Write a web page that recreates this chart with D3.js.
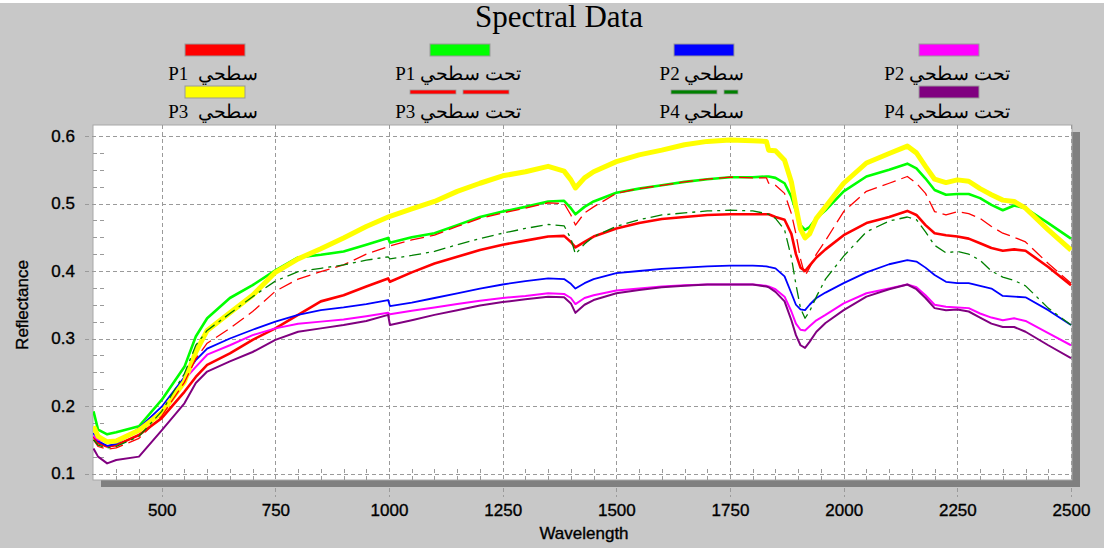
<!DOCTYPE html>
<html>
<head>
<meta charset="utf-8">
<script src="https://cdn.jsdelivr.net/npm/d3@7"></script>
<style>
  body { margin: 0; background: #c8c8c8; }
  svg { display: block; }
  .serif { font-family: "Liberation Serif", "Times New Roman", serif; }
  .sans { font-family: "Liberation Sans", Arial, sans-serif; stroke: #000; stroke-width: 0.35px; }
</style>
</head>
<body>
<svg></svg>
<script>
// Wavelength samples (nm) shared by all spectra
const wavelengths = [350, 360, 380, 400, 450, 500, 550, 575, 600, 650, 700, 750, 800, 850, 900, 950, 998, 1002,
  1050, 1100, 1150, 1200, 1250, 1300, 1350, 1385, 1400, 1410, 1430, 1450, 1500, 1550, 1600, 1650, 1700, 1750,
  1800, 1830, 1835, 1850, 1870, 1885, 1895, 1905, 1915, 1925, 1940, 1960, 2000, 2050, 2100, 2140, 2160, 2180,
  2200, 2225, 2250, 2275, 2300, 2325, 2350, 2375, 2400, 2450, 2500];

// Reflectance values
const p1Surface = [0.155, 0.145, 0.140, 0.142, 0.157, 0.182, 0.221, 0.243, 0.261, 0.278, 0.298, 0.315, 0.335, 0.355, 0.364, 0.377, 0.389, 0.384,
  0.398, 0.411, 0.421, 0.431, 0.439, 0.445, 0.451, 0.452, 0.443, 0.435, 0.443, 0.451, 0.463, 0.471, 0.477, 0.480, 0.483, 0.484,
  0.484, 0.484, 0.484, 0.480, 0.476, 0.455, 0.425, 0.405, 0.400, 0.408, 0.420, 0.432, 0.453, 0.471, 0.480, 0.489, 0.483, 0.468,
  0.456, 0.453, 0.451, 0.448, 0.441, 0.434, 0.430, 0.432, 0.430, 0.406, 0.379];
const p1Sub = [0.192, 0.165, 0.158, 0.161, 0.170, 0.209, 0.258, 0.303, 0.330, 0.360, 0.379, 0.401, 0.420, 0.424, 0.429, 0.439, 0.449, 0.442,
  0.450, 0.456, 0.468, 0.480, 0.488, 0.495, 0.503, 0.504, 0.493, 0.484, 0.495, 0.503, 0.516, 0.522, 0.527, 0.532, 0.536, 0.539,
  0.539, 0.540, 0.540, 0.538, 0.530, 0.510, 0.489, 0.468, 0.461, 0.465, 0.478, 0.490, 0.518, 0.540, 0.550, 0.559, 0.552, 0.537,
  0.520, 0.513, 0.514, 0.514, 0.508, 0.498, 0.490, 0.497, 0.493, 0.471, 0.448];
const p2Surface = [0.160, 0.148, 0.141, 0.144, 0.167, 0.199, 0.243, 0.268, 0.285, 0.300, 0.313, 0.325, 0.335, 0.342, 0.346, 0.351, 0.357, 0.348,
  0.353, 0.360, 0.367, 0.374, 0.380, 0.385, 0.389, 0.388, 0.381, 0.374, 0.382, 0.388, 0.397, 0.400, 0.403, 0.405, 0.407, 0.408,
  0.408, 0.407, 0.406, 0.404, 0.392, 0.367, 0.350, 0.343, 0.342, 0.350, 0.360, 0.368, 0.382, 0.398, 0.410, 0.416, 0.414, 0.405,
  0.394, 0.384, 0.382, 0.382, 0.378, 0.374, 0.363, 0.362, 0.361, 0.342, 0.320];
const p2Sub = [0.156, 0.150, 0.147, 0.150, 0.162, 0.192, 0.239, 0.258, 0.276, 0.290, 0.305, 0.315, 0.322, 0.325, 0.328, 0.333, 0.338, 0.336,
  0.341, 0.346, 0.351, 0.356, 0.360, 0.363, 0.367, 0.366, 0.360, 0.351, 0.360, 0.364, 0.371, 0.374, 0.377, 0.379, 0.380, 0.380,
  0.380, 0.378, 0.377, 0.373, 0.362, 0.340, 0.322, 0.313, 0.312, 0.318, 0.327, 0.335, 0.352, 0.367, 0.374, 0.380, 0.376, 0.364,
  0.350, 0.347, 0.346, 0.345, 0.337, 0.331, 0.327, 0.330, 0.326, 0.308, 0.290];
const p3Surface = [0.170, 0.155, 0.147, 0.148, 0.164, 0.190, 0.236, 0.280, 0.312, 0.338, 0.364, 0.398, 0.418, 0.433, 0.449, 0.466, 0.480, 0.481,
  0.492, 0.503, 0.518, 0.530, 0.541, 0.547, 0.555, 0.548, 0.535, 0.523, 0.538, 0.547, 0.562, 0.572, 0.579, 0.587, 0.592, 0.594,
  0.593, 0.592, 0.579, 0.578, 0.564, 0.532, 0.495, 0.462, 0.449, 0.455, 0.478, 0.495, 0.530, 0.560, 0.574, 0.585, 0.575, 0.555,
  0.536, 0.531, 0.535, 0.533, 0.522, 0.513, 0.505, 0.503, 0.493, 0.461, 0.431];
const p3Sub = [0.150, 0.140, 0.136, 0.138, 0.152, 0.185, 0.235, 0.270, 0.293, 0.315, 0.340, 0.370, 0.388, 0.399, 0.409, 0.425, 0.436, 0.437,
  0.446, 0.453, 0.466, 0.478, 0.486, 0.493, 0.501, 0.500, 0.483, 0.468, 0.486, 0.495, 0.515, 0.522, 0.527, 0.532, 0.536, 0.539,
  0.538, 0.538, 0.530, 0.527, 0.515, 0.485, 0.455, 0.418, 0.393, 0.405, 0.425, 0.445, 0.488, 0.518, 0.530, 0.540, 0.530, 0.515,
  0.488, 0.483, 0.488, 0.485, 0.478, 0.466, 0.456, 0.450, 0.443, 0.411, 0.382];
const p4Surface = [0.150, 0.142, 0.138, 0.140, 0.155, 0.192, 0.248, 0.290, 0.312, 0.337, 0.362, 0.385, 0.399, 0.404, 0.409, 0.416, 0.421, 0.418,
  0.423, 0.429, 0.439, 0.448, 0.456, 0.463, 0.469, 0.467, 0.448, 0.425, 0.440, 0.451, 0.466, 0.476, 0.483, 0.486, 0.489, 0.490,
  0.489, 0.485, 0.484, 0.478, 0.461, 0.420, 0.380, 0.345, 0.330, 0.340, 0.362, 0.388, 0.422, 0.458, 0.474, 0.480, 0.476, 0.458,
  0.438, 0.427, 0.429, 0.425, 0.416, 0.400, 0.391, 0.386, 0.378, 0.345, 0.320];
const p4Sub = [0.137, 0.125, 0.115, 0.120, 0.125, 0.164, 0.204, 0.234, 0.251, 0.266, 0.280, 0.298, 0.310, 0.315, 0.320, 0.326, 0.335, 0.320,
  0.327, 0.335, 0.342, 0.349, 0.354, 0.358, 0.362, 0.361, 0.352, 0.338, 0.350, 0.357, 0.367, 0.372, 0.376, 0.378, 0.380, 0.380,
  0.380, 0.377, 0.376, 0.369, 0.355, 0.327, 0.305, 0.290, 0.286, 0.295, 0.310, 0.323, 0.342, 0.362, 0.373, 0.380, 0.373, 0.360,
  0.345, 0.342, 0.343, 0.340, 0.331, 0.322, 0.317, 0.317, 0.310, 0.290, 0.271];

// Legend labels and tick values
const seriesLabels = ["P1  سطحي", "P1 تحت سطحي", "P2 سطحي", "P2 تحت سطحي", "P3  سطحي", "P3 تحت سطحي", "P4 سطحي", "P4 تحت سطحي"];
const xTicks = [500, 750, 1000, 1250, 1500, 1750, 2000, 2250, 2500];
const yTicks = [0.1, 0.2, 0.3, 0.4, 0.5, 0.6];

const series = [
  { label: seriesLabels[0], values: p1Surface, color: "#ff0000", width: 2.6, dash: null },
  { label: seriesLabels[1], values: p1Sub, color: "#00ff00", width: 2.6, dash: null },
  { label: seriesLabels[2], values: p2Surface, color: "#0000ff", width: 1.8, dash: null },
  { label: seriesLabels[3], values: p2Sub, color: "#ff00ff", width: 2, dash: null },
  { label: seriesLabels[4], values: p3Surface, color: "#ffff00", width: 5, dash: null },
  { label: seriesLabels[5], values: p3Sub, color: "#ff0000", width: 1.3, dash: "14,6" },
  { label: seriesLabels[6], values: p4Surface, color: "#008000", width: 1.3, dash: "12,5,3,5" },
  { label: seriesLabels[7], values: p4Sub, color: "#800080", width: 2, dash: null }
];

const svgWidth = 1104;
const svgHeight = 548;
const plot = { left: 93, top: 125, right: 1072, bottom: 480 };

const svg = d3.select("svg")
  .attr("width", svgWidth)
  .attr("height", svgHeight);

// thin white strip along the top edge
svg.append("rect").attr("x", 0).attr("y", 0).attr("width", svgWidth).attr("height", 3).attr("fill", "#fff");

const x = d3.scaleLinear().domain([350, 2500]).range([93.5, 1071]);
const y = d3.scaleLinear().domain([0.1, 0.6]).range([473.5, 136]);

// Title
svg.append("text")
  .attr("class", "serif")
  .attr("x", 559)
  .attr("y", 27)
  .attr("text-anchor", "middle")
  .style("font-size", "31px")
  .text("Spectral Data");

// Legend: 4 columns x 2 rows
const legendCols = [215, 460, 704, 949];
const legendRows = [{ box: 44, text: 80 }, { box: 86, text: 118 }];

series.forEach((s, i) => {
  const cx = legendCols[i % 4];
  const row = legendRows[Math.floor(i / 4)];
  const g = svg.append("g");
  if (s.dash === null) {
    g.append("rect")
      .attr("x", cx - 30).attr("y", row.box)
      .attr("width", 60).attr("height", 12)
      .attr("fill", s.color)
      .attr("stroke", "#999").attr("stroke-width", 1);
  } else {
    // dashed samples are drawn as short bordered bars
    const parts = i === 5 ? [[410, 456], [463, 509]] : [[671, 717], [724, 738]];
    parts.forEach(p => {
      g.append("rect")
        .attr("x", p[0]).attr("y", row.box + 4)
        .attr("width", p[1] - p[0]).attr("height", 4)
        .attr("fill", s.color)
        .attr("stroke", "#999").attr("stroke-width", 0.8);
    });
  }
  g.append("text")
    .attr("class", "serif")
    .attr("x", cx - 2)
    .attr("y", row.text)
    .attr("text-anchor", "middle")
    .attr("direction", "ltr")
    .style("font-size", "19px")
    .style("white-space", "pre")
    .text(s.label);
});

// Plot shadow and background
svg.append("rect")
  .attr("x", plot.left + 8).attr("y", plot.top + 7)
  .attr("width", plot.right - plot.left).attr("height", plot.bottom - plot.top)
  .attr("fill", "#808080");
svg.append("rect")
  .attr("x", plot.left).attr("y", plot.top)
  .attr("width", plot.right - plot.left).attr("height", plot.bottom - plot.top)
  .attr("fill", "#fff")
  .attr("stroke", "#a8a8a8").attr("stroke-width", 1);

const grid = svg.append("g")
  .attr("stroke", "#9a9a9a")
  .attr("stroke-width", 1)
  .attr("stroke-dasharray", "4,3");

// major grid lines, extending out past the frame
grid.selectAll(".hgrid")
  .data(yTicks)
  .enter()
  .append("line")
  .attr("x1", plot.left - 8).attr("x2", plot.right)
  .attr("y1", d => Math.round(y(d)) + 0.5).attr("y2", d => Math.round(y(d)) + 0.5);

grid.selectAll(".vgrid")
  .data(xTicks)
  .enter()
  .append("line")
  .attr("x1", d => Math.round(x(d)) + 0.5).attr("x2", d => Math.round(x(d)) + 0.5)
  .attr("y1", plot.top).attr("y2", plot.bottom);

// major ticks below the shadow
grid.selectAll(".vtick")
  .data(xTicks)
  .enter()
  .append("line")
  .attr("x1", d => Math.round(x(d)) + 0.5).attr("x2", d => Math.round(x(d)) + 0.5)
  .attr("y1", plot.bottom + 8).attr("y2", plot.bottom + 17);

// minor ticks
const xMinor = d3.range(400, 2500, 50).filter(d => d % 250 !== 0);
const yMinor = d3.range(0.1, 0.61, 0.025).filter((d, i) => i % 4 !== 0);

grid.selectAll(".xminor")
  .data(xMinor)
  .enter()
  .append("line")
  .attr("x1", d => Math.round(x(d)) + 0.5).attr("x2", d => Math.round(x(d)) + 0.5)
  .attr("y1", plot.bottom).attr("y2", plot.bottom - 12);

grid.selectAll(".yminor")
  .data(yMinor)
  .enter()
  .append("line")
  .attr("x1", plot.left).attr("x2", plot.left + 12)
  .attr("y1", d => Math.round(y(d)) + 0.5).attr("y2", d => Math.round(y(d)) + 0.5);

// Tick labels
svg.append("g")
  .attr("transform", `translate(${plot.left - 10},0)`)
  .call(d3.axisLeft(y).tickValues(yTicks).tickSize(0).tickPadding(8).tickFormat(d3.format(".1f")))
  .call(g => g.select(".domain").remove())
  .selectAll("text")
  .attr("class", "sans")
  .style("font-size", "17px")
  .attr("fill", "#000");

svg.append("g")
  .attr("transform", `translate(0,${plot.bottom + 20})`)
  .call(d3.axisBottom(x).tickValues(xTicks).tickSize(0).tickPadding(4).tickFormat(d3.format("d")))
  .call(g => g.select(".domain").remove())
  .selectAll("text")
  .attr("class", "sans")
  .style("font-size", "17px")
  .attr("fill", "#000");

// Axis titles
svg.append("text")
  .attr("class", "sans")
  .attr("x", 584)
  .attr("y", 539)
  .attr("text-anchor", "middle")
  .style("font-size", "17px")
  .text("Wavelength");

svg.append("text")
  .attr("class", "sans")
  .attr("transform", "translate(28,305) rotate(-90)")
  .attr("text-anchor", "middle")
  .style("font-size", "17px")
  .text("Reflectance");

// Spectra
const line = d3.line()
  .x((d, i) => x(wavelengths[i]))
  .y(d => y(d));

svg.append("defs").append("clipPath")
  .attr("id", "clip")
  .append("rect")
  .attr("x", plot.left).attr("y", plot.top)
  .attr("width", plot.right - plot.left).attr("height", plot.bottom - plot.top);

svg.append("g")
  .attr("clip-path", "url(#clip)")
  .selectAll(".spectrum")
  .data(series)
  .enter()
  .append("path")
  .attr("class", "spectrum")
  .attr("d", d => line(d.values))
  .attr("fill", "none")
  .attr("stroke", d => d.color)
  .attr("stroke-width", d => d.width)
  .attr("stroke-dasharray", d => d.dash)
  .attr("stroke-linejoin", "round");
</script>
</body>
</html>
